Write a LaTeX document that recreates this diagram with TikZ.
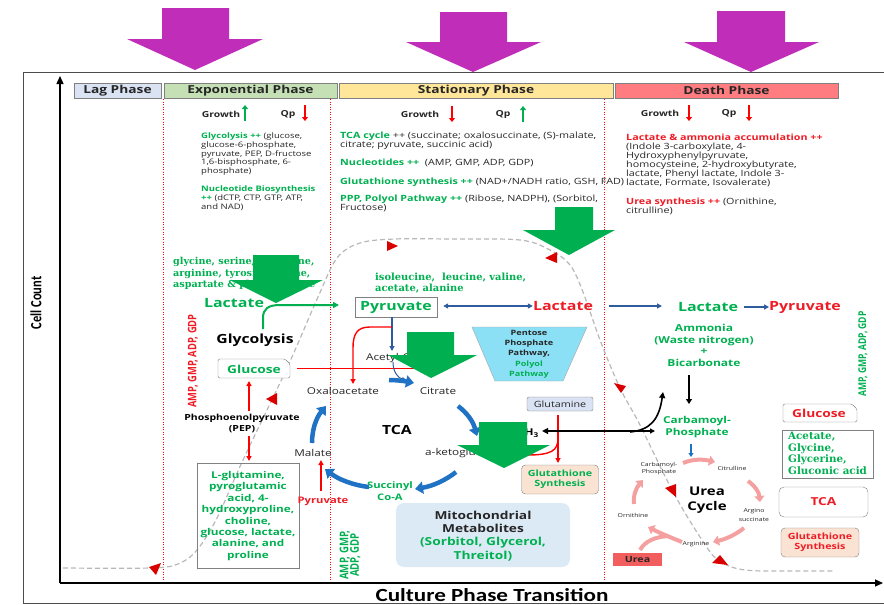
\documentclass[tikz,border=0pt]{standalone}
\usepackage{fontspec}
\setmainfont{Open Sans}[FakeStretch=1.25]
\newfontfamily\osv{Open Sans}[FakeStretch=0.8]
\newfontfamily\carl{Carlito}[FakeStretch=1.25]
\newfontfamily\carlv{Carlito}[FakeStretch=0.8]
\newfontfamily\ser{DejaVu Serif}
\usetikzlibrary{arrows.meta}
\definecolor{gr}{HTML}{00B050}
\definecolor{rd}{HTML}{EE1C25}
\definecolor{purp}{HTML}{BF2DB9}
\definecolor{garr}{HTML}{00B050}
\definecolor{tblue}{HTML}{1F72C4}
\definecolor{dblue}{HTML}{2E5C9E}
\definecolor{lagc}{HTML}{DAE3F3}
\definecolor{expc}{HTML}{C5E0B4}
\definecolor{statc}{HTML}{FFE699}
\definecolor{deathc}{HTML}{FF7C80}
\definecolor{pinkc}{HTML}{F4A0A0}
\definecolor{pppc}{HTML}{8BE0F6}
\definecolor{mitoc}{HTML}{DCEAF6}
\definecolor{peach}{HTML}{FBE3D3}
\definecolor{ureac}{HTML}{F25E5E}
\definecolor{curvec}{HTML}{B8B8B8}
\definecolor{txt}{HTML}{262626}
\newcommand\fsz[2]{\fontsize{#1}{#2}\selectfont}
\tikzset{
  hdr/.style={draw=gray, minimum height=15pt, font=\fsz{11}{12}\bfseries, text=txt},
  body/.style={anchor=north west, align=left, font=\fsz{8.6}{9}, text=txt},
  bodys/.style={anchor=north west, align=left, font=\fsz{7.6}{8.8}, text=txt},
  bt/.style={font=\bfseries\fsz{#1}{#1}},
  rt/.style={font=\fsz{#1}{#1}, text=txt},
  sb/.style={font=\ser\bfseries\fsz{#1}{#1}, text=gr},
  gup/.style={draw=gr, line width=2pt, -{Triangle[length=4pt,width=6pt]}},
  rdown/.style={draw=red, line width=2pt, -{Triangle[length=4pt,width=6pt]}},
  tcaarr/.style={draw=tblue, line width=4.5pt, -{Triangle[length=8pt,width=12pt]}},
  redarr/.style={draw=red, line width=1.4pt, -{Triangle[length=5pt,width=5pt]}},
  pinkarr/.style={draw=pinkc, line width=4pt, -{Triangle[length=6pt,width=10pt]}},
  blarr/.style={draw=dblue, line width=1.5pt, -{Triangle[length=5pt,width=5pt]}},
  bigg/.style={fill=garr},
  bigp/.style={fill=purp},
  tri/.style={fill=red!85!black},
  vdot/.style={draw=red, line width=0.6pt, dash pattern=on 1pt off 1.5pt},
}
\begin{document}
\begin{tikzpicture}[x=1pt,y=-1pt, every node/.style={inner sep=0pt}]
\useasboundingbox (0,0) rectangle (884,605);
% frame and axes
\draw[gray!60!black, line width=0.8pt] (890,72) -- (23,72) -- (23,603) -- (890,603);
\coordinate (origin) at (60,583);
\coordinate (ytop) at (60,76);
\coordinate (xend) at (883,583);
\draw[line width=1.3pt, -{Triangle[length=8pt,width=7pt]}] (origin) -- (ytop);
\draw[line width=1.3pt, -{Triangle[length=8pt,width=7pt]}] (origin) -- (xend);
\node[rotate=90, font=\carlv\bfseries\fsz{15.6}{15.6}] (ylab) at (36,303) {Cell Count};
\node[font=\carl\bfseries\fsz{18.5}{18.5}] (xlab) at (492,595) {Culture Phase Transition};
% phase headers
\node[hdr, fill=lagc, minimum width=87pt] (lag) at (117.5,90.5) {Lag Phase};
\node[hdr, fill=expc, minimum width=173pt] (expo) at (250.5,90.5) {Exponential Phase};
\node[hdr, fill=statc, minimum width=274pt] (stat) at (476,90.5) {Stationary Phase};
\node[hdr, fill=deathc, minimum width=223pt] (death) at (726.5,90.5) {Death Phase};
% dotted separators
\draw[vdot] (163,99) -- (163,580);
\draw[vdot] (330,99) -- (330,580);
\draw[vdot] (604,99) -- (604,580);
% growth curve
\draw[curvec, line width=1.2pt, dash pattern=on 5pt off 3pt] plot[smooth, tension=0.55] coordinates {(63,568) (150,568) (178,564) (197,550) (217,518) (243,460) (287,368) (318,297) (337,258) (360,243) (395,239) (450,239) (520,240) (550,250) (570,265) (583,292) (600,340) (620,388) (640,425) (672,490) (700,537) (718,560) (745,570) (800,571) (835,571)};
\fill[tri] (149,567) -- (161,563) -- (156,575) -- cycle;
\fill[tri] (266,399) -- (277,393) -- (277,405) -- cycle;
\fill[tri] (387,241) -- (398,246) -- (387,251) -- cycle;
\fill[tri] (545,258) -- (557,252) -- (557,263) -- cycle;
\fill[tri] (614,383) -- (626,386) -- (621,393) -- cycle;
\fill[tri] (665,488) -- (676,484) -- (676,497) -- cycle;
\fill[tri] (712,563) -- (720,555) -- (728,565) -- cycle;
% exponential header texts
\node[bt=8.3, text=txt] (g1) at (221,114) {Growth};
\draw[gup] (245,121) -- (245,105);
\node[bt=8.3, text=txt] (q1) at (288,114) {Qp};
\draw[rdown] (305,105) -- (305,121);
\node[bodys] (expt) at (201,132.5) {{\color{gr}\bfseries Glycolysis ++} (glucose,\\glucose-6-phosphate,\\pyruvate, PEP, D-fructose\\1,6-bisphosphate, 6-\\phosphate)};
\node[bodys] (expn) at (201,185.5) {{\color{gr}\bfseries Nucleotide Biosynthesis}\\{\color{gr}\bfseries ++} (dCTP, CTP, GTP, ATP,\\and NAD)};
% stationary header texts
\node[bt=8.3, text=txt] (g2) at (420,114) {Growth};
\draw[rdown] (452,106) -- (452,122);
\node[bt=8.3, text=txt] (q2) at (503,114) {Qp};
\draw[gup] (523,122) -- (523,106);
\node[body] (st1) at (340,132) {{\color{gr}\bfseries TCA cycle} ++ (succinate; oxalosuccinate, (S)-malate,\\citrate; pyruvate, succinic acid)};
\node[body] (st2) at (340,159) {{\color{gr}\bfseries Nucleotides ++}\ \ (AMP, GMP, ADP, GDP)};
\node[body] (st3) at (340,178) {{\color{gr}\bfseries Glutathione synthesis ++} (NAD+/NADH ratio, GSH, FAD)};
\node[body] (st4) at (340,195) {{\color{gr}\bfseries PPP, Polyol Pathway ++} (Ribose, NADPH), (Sorbitol,\\Fructose)};
% death header texts
\node[bt=8.3, text=txt] (g3) at (660,113) {Growth};
\draw[rdown] (689,105) -- (689,121);
\node[bt=8.3, text=txt] (q3) at (729,113) {Qp};
\draw[rdown] (749,105) -- (749,121);
\node[body] (d1) at (626,134) {{\color{rd}\bfseries Lactate \& ammonia accumulation ++}\\(Indole 3-carboxylate, 4-\\Hydroxyphenylpyruvate,\\homocysteine, 2-hydroxybutyrate,\\lactate, Phenyl lactate, Indole 3-\\lactate, Formate, Isovalerate)};
\node[body] (d2) at (626,198) {{\color{rd}\bfseries Urea synthesis ++} (Ornithine,\\citrulline)};
% ---------- exponential diagram
\node[sb=9.6, anchor=west] (aa1) at (173,262) {glycine, serine, threonine,};
\node[sb=9.6, anchor=west] (aa2) at (173,274) {arginine, tyrosine, lysine,};
\node[sb=9.6, anchor=west] (aa3) at (173,285) {aspartate \& phenylalanine};
\node[bt=12.8, text=gr] (lacL) at (234,303) {Lactate};
\node[bt=12.6, text=black] (glyc) at (255,340) {Glycolysis};
\draw[gray, fill=white, rounded corners=1.5pt] (218,359) -- (285,359) -- (290,364) -- (290,378) -- (218,378) -- cycle;
\node[bt=11, text=gr] (glc) at (254,369) {Glucose};
\node[bt=8.4, text=black] (pep) at (242,418) {Phosphoenolpyruvate};
\node[bt=8.4, text=black] (pep2) at (242,429) {(PEP)};
\draw[redarr] (249,411) -- (249,381);
\draw[redarr] (249,436) -- (249,461);
\node[draw=gray, minimum width=102pt, minimum height=105pt] (lglu) at (248,515.5) {};
\node[align=center, text=gr, font=\bfseries\fsz{9.4}{11.4}] (lglut) at (248,516) {L-glutamine,\\pyroglutamic\\acid, 4-\\hydroxyproline,\\choline,\\glucose, lactate,\\alanine, and\\proline};
\node[rotate=90, text=rd, font=\osv\bfseries\fsz{11.7}{11.7}] (ampL) at (193,361) {AMP, GMP, ADP, GDP};
\coordinate (gend) at (339,305);
\draw[draw=gr, line width=2pt, -{Triangle[length=6pt,width=6pt]}] (263,329) -- (263,318) .. controls (263,309) and (268,305) .. (280,305) -- (gend);
% ---------- stationary diagram
\node[sb=9.9, anchor=west] (bcaa1) at (375,278) {isoleucine,\ \ leucine, valine,};
\node[sb=9.9, anchor=west] (bcaa2) at (375,289) {acetate, alanine};
\node[draw=gray, fill=white, minimum width=82pt, minimum height=20pt, bt=12.7, text=gr] (pyr) at (396,307) {Pyruvate};
\node[bt=12.8, text=rd] (lacM) at (563,306) {Lactate};
\draw[dblue, line width=1.5pt, {Triangle[length=5pt,width=5pt]}-{Triangle[length=5pt,width=5pt]}] (pyr.east)++(6,-1) -- (lacM.west);
\draw[red, line width=0.8pt] (glc.east)++(16,-1) -- (430,368);
\node[rt=9.4, anchor=west] (acoa) at (366,358) {Acetyl-CoA};
\draw[blarr, line width=1.2pt] (392,317) -- (392,351);
\draw[redarr] (392,327) -- (370,327) .. controls (357,327) and (353,334) .. (353,348) -- (353,384);
\node[rt=9.4] (oaa) at (343,391) {Oxaloacetate};
\node[rt=9.4] (cit) at (438,391) {Citrate};
\node[bt=12.6, text=black] (tca) at (397,430) {TCA};
\node[rt=9.4] (mal) at (313,453) {Malate};
\node[rt=9.4, anchor=west] (akg) at (425,453) {a-ketoglutarate};
\node[bt=9, text=gr] (suc1) at (390,486) {Succinyl};
\node[bt=9, text=gr] (suc2) at (390,497) {Co-A};
\node[bt=9, text=rd] (pyr2) at (323,501) {Pyruvate};
\draw[redarr] (321,491) -- (321,460);
\draw[dblue, line width=1pt, -{Triangle[length=4pt,width=4pt]}] (393,362) .. controls (393,372) and (398,378) .. (406,380);
\draw[tcaarr] (389,380) .. controls (396,380) and (404,381) .. (414,383);
\draw[tcaarr] (458,406) .. controls (467,413) and (473,421) .. (477,436);
\draw[tcaarr] (456,472) .. controls (446,480) and (433,486) .. (415,489);
\draw[tcaarr] (369,487) .. controls (352,485) and (338,479) .. (325,469);
\draw[tcaarr] (312,443) .. controls (312,430) and (316,418) .. (326,406);
\draw[gray!70, fill=pppc] (472,327) -- (587,327) -- (563,381) -- (495,381) -- cycle;
\node[align=center, font=\bfseries\fsz{7.3}{10.3}, text=txt] (ppp) at (529,354) {Pentose\\Phosphate\\Pathway,\\{\color{gr}Polyol}\\{\color{gr}Pathway}};
\node[draw=gray, fill=lagc, rounded corners=2pt, minimum width=66pt, minimum height=14pt, rt=8.6] (gln) at (560,404) {Glutamine};
\node[bt=9.4, text=black] (nh3) at (527,433) {NH\textsubscript{3}};
\node[draw=gray, fill=peach, rounded corners=4pt, minimum width=77pt, minimum height=29pt, align=center, text=gr, font=\bfseries\fsz{8.6}{10.5}] (gsh) at (560,479.5) {Glutathione\\Synthesis};
\draw[redarr] (gln.south)++(-2,4) -- (558,463);
\draw[red, line width=1.4pt] (558,438) .. controls (558,451) and (551,455) .. (527,455);
\node[fill=mitoc, rounded corners=8pt, minimum width=174pt, minimum height=64pt] (mito) at (483,535) {};
\node[bt=11, text=txt] (mt1) at (483,515) {Mitochondrial};
\node[bt=11, text=txt] (mt2) at (483,528) {Metabolites};
\node[bt=11, text=gr] (mt3) at (483,543) {(Sorbitol, Glycerol,};
\node[bt=11, text=gr] (mt4) at (483,556) {Threitol)};
\node[rotate=90, text=gr, align=center, font=\osv\bfseries\fsz{12}{10.5}] (ampM) at (350,555) {AMP, GMP,\\ADP, GDP};
% ---------- death diagram
\coordinate (lstart) at (609,306);
\node[bt=12.8, text=gr] (lacR) at (708,307) {Lactate};
\node[bt=12.7, text=rd] (pyrR) at (805,307) {Pyruvate};
\draw[blarr] (lstart) -- (662,306);
\draw[blarr] (lacR.east)++(6,0) -- (pyrR.west);
\node[align=center, text=gr, font=\bfseries\fsz{9.6}{11.7}] (amm) at (704,345.5) {Ammonia\\(Waste nitrogen)\\+\\Bicarbonate};
\draw[black, line width=1.5pt, -{Triangle[length=5pt,width=6pt]}] (689,375) -- (689,404);
\node[align=center, text=gr, font=\bfseries\fsz{9.5}{12}] (cp) at (697,427) {Carbamoyl-\\Phosphate};
\draw[tblue, line width=1.5pt, -{Triangle[length=4pt,width=5pt]}] (691,444) -- (691,457);
\draw[black, line width=1.3pt, {Triangle[length=6pt,width=6pt]}-{Triangle[length=5pt,width=5pt]}] (nh3.east)++(3,-2) -- (655,431);
\draw[black, line width=1.6pt, -{Triangle[length=6pt,width=6pt]}] (630,432) .. controls (650,430) and (659,420) .. (663,392);
% urea cycle
\node[align=center, font=\fsz{5.5}{7}, text=txt] (ucp) at (659,468.5) {Carbamoyl-\\Phosphate};
\node[rt=5.5] (ucit) at (732,468) {Citrulline};
\node[align=center, font=\fsz{5.5}{9}, text=txt] (uarg) at (754,515.5) {Argino\\succinate};
\node[rt=5.5] (uargn) at (696,544) {Arginine};
\node[rt=5.5] (uorn) at (633,515) {Ornithine};
\node[align=center, font=\bfseries\fsz{12}{15}, text=black] (ucyc) at (707,500.5) {Urea\\Cycle};
\draw[pinkarr] (683,463) .. controls (693,459) and (702,459) .. (715,462);
\draw[pinkarr] (748,481) .. controls (755,486) and (759,492) .. (760,502);
\draw[pinkarr] (744,528) .. controls (735,535) and (726,539) .. (713,542);
\draw[pinkarr] (682,542) .. controls (672,538) and (660,533) .. (648,527);
\draw[pinkc, line width=4pt] (668,536) .. controls (655,537) and (645,541) .. (640,550);
\draw[pinkarr] (634,504) .. controls (633,496) and (636,488) .. (643,480);
\node[fill=ureac, minimum width=49pt, minimum height=13pt, bt=8.5, text=txt] (urea) at (637.5,559.5) {Urea};
% right boxes
\draw[gray, fill=white, rounded corners=1.5pt] (783,404) -- (852,404) -- (857,409) -- (857,422) -- (783,422) -- cycle;
\node[bt=11, text=rd] (glcR) at (819,413) {Glucose};
\node[draw=gray, minimum width=91pt, minimum height=48pt] (acbox) at (827.5,454) {};
\node[sb=10.3, anchor=west] (ac1) at (788,437) {Acetate,};
\node[sb=10.3, anchor=west] (ac2) at (788,448.5) {Glycine,};
\node[sb=10.3, anchor=west] (ac3) at (788,460) {Glycerine,};
\node[sb=10.3, anchor=west] (ac4) at (788,471) {Gluconic acid};
\node[draw=gray, rounded corners=5pt, minimum width=89pt, minimum height=30pt, bt=11, text=rd] (tcaR) at (823.5,502) {TCA};
\node[draw=gray, fill=peach, rounded corners=4pt, minimum width=78pt, minimum height=29pt, align=center, text=rd, font=\bfseries\fsz{8.6}{10.5}] (gshR) at (820,542.5) {Glutathione\\Synthesis};
\node[rotate=90, text=gr, font=\osv\bfseries\fsz{10.7}{10.7}] (ampR) at (863,354) {AMP, GMP, ADP, GDP};
% big green arrows
\fill[bigg] (253,255) -- (299,255) -- (299,280) -- (323,280) -- (276,303) -- (230,280) -- (253,280) -- cycle;
\fill[bigg] (555,207) -- (593,207) -- (593,230) -- (615,230) -- (569,255) -- (523,230) -- (555,230) -- cycle;
\fill[bigg] (407,332) -- (454,332) -- (454,355) -- (477,355) -- (431,378) -- (388,355) -- (407,355) -- cycle;
\fill[bigg] (479,422) -- (527,422) -- (527,445) -- (550,445) -- (504,468) -- (457,445) -- (479,445) -- cycle;
% big purple arrows
\fill[bigp] (162,8) -- (229,8) -- (229,39) -- (263,39) -- (195,70) -- (127,39) -- (162,39) -- cycle;
\fill[bigp] (440,12) -- (507,12) -- (507,42) -- (541,42) -- (473,72) -- (406,42) -- (440,42) -- cycle;
\fill[bigp] (717,11) -- (785,11) -- (785,42) -- (819,42) -- (751,72) -- (684,42) -- (717,42) -- cycle;
\end{tikzpicture}
\end{document}
